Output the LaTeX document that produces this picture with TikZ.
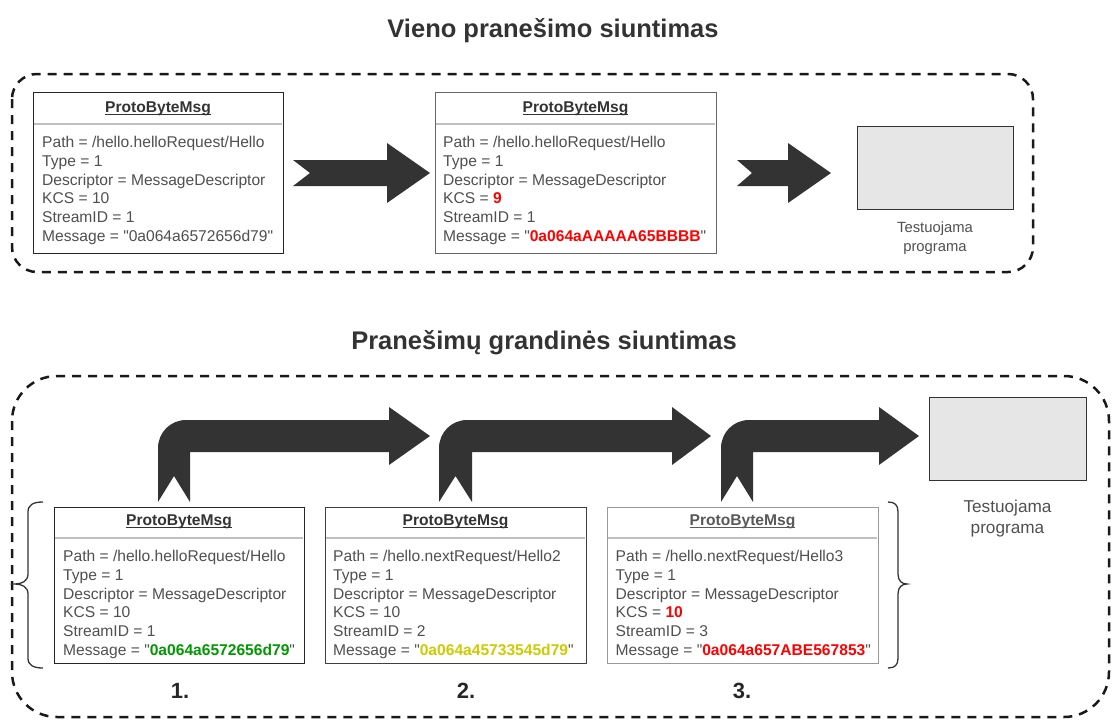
\documentclass[tikz,border=0pt]{standalone}
\usepackage{fontspec}
\setmainfont{Liberation Sans}[Ligatures=TeXOff]
\definecolor{txtgray}{HTML}{505050}
\definecolor{hdgray}{HTML}{333333}
\definecolor{arrowgray}{HTML}{333333}
\definecolor{boxfill}{HTML}{E6E6E6}
\definecolor{msgred}{HTML}{FF0000}
\definecolor{msggreen}{HTML}{009900}
\definecolor{msgyel}{HTML}{CCCC00}
\definecolor{sepgray}{HTML}{C0C0C0}
\newcommand\myul[1]{\setbox0\hbox{#1}\rlap{\rule[-2pt]{\wd0}{1.1pt}}\box0}
\newcommand\hl[2]{{\color{#1}\bfseries #2}}
\newcommand\msglines[9]{%
  \node[ln] (#1l1) at (#2,#3) {#4};
  \node[ln] (#1l2) at (#2,#3+18.8) {#5};
  \node[ln] (#1l3) at (#2,#3+37.6) {#6};
  \node[ln] (#1l4) at (#2,#3+56.4) {#7};
  \node[ln] (#1l5) at (#2,#3+75.2) {#8};
  \node[ln] (#1l6) at (#2,#3+94.0) {#9};
}
\newcommand\bentarr[4]{%
  \fill[blk] (#1,502) -- (#1,448) .. controls (#1,432.5) and (#1+12.5,420) .. (#1+28,420)
    -- (#3,420) -- (#3,407) -- (#4,436) -- (#3,465) -- (#3,452) -- (#2,452) -- (#2,502)
    -- ({(#1+#2)/2},476) -- cycle;}
\tikzset{
  frame/.style={draw=black!90, line width=2.5pt, dash pattern=on 9pt off 7pt},
  msg/.style={draw=#1, line width=1.3pt, fill=white, inner sep=0pt, anchor=north west},
  sepline/.style={draw=sepgray, line width=1.5pt},
  ln/.style={anchor=base west, inner sep=0pt, text=txtgray, font=\fontsize{15.6}{18.8}\selectfont},
  hd/.style={anchor=base, inner sep=0pt, text=hdgray, font=\fontsize{15.6}{18.8}\selectfont\bfseries},
  title/.style={anchor=base, inner sep=0pt, text=hdgray, font=\fontsize{25.5}{30}\selectfont\bfseries},
  num/.style={anchor=base, inner sep=0pt, text=black!85, font=\fontsize{22}{26}\selectfont\bfseries},
  prog/.style={draw=hdgray, line width=1.3pt, fill=boxfill, inner sep=0pt, anchor=north west},
  plabel/.style={anchor=base, inner sep=0pt, text=txtgray},
  blk/.style={fill=arrowgray},
  brc/.style={draw=hdgray, line width=1.3pt},
}
\begin{document}
\begin{tikzpicture}[x=1pt,y=-1pt]
\useasboundingbox (0,0) rectangle (1112,720);

% ---------- top section ----------
\node[title] (t1) at (553,37) {Vieno pranešimo siuntimas};
\draw[frame, rounded corners=25pt] (12,74) rectangle (1033,272);

\node[msg=black!85, minimum width=250pt, minimum height=161pt] (b1) at (33,92) {};
\draw[sepline] (33.7,124) -- (282.3,124);
\node[hd] (b1h) at (158,112.6) {\myul{ProtoByteMsg}};
\msglines{b1}{42}{147.5}{Path = /hello.helloRequest/Hello}{Type = 1}{Descriptor = MessageDescriptor}{KCS = 10}{StreamID = 1}{Message = "0a064a6572656d79"}

\node[msg=black!60, minimum width=281pt, minimum height=161pt] (b2) at (435,92) {};
\draw[sepline] (435.7,124) -- (715.3,124);
\node[hd] (b2h) at (575.5,112.6) {\myul{ProtoByteMsg}};
\msglines{b2}{443}{147.5}{Path = /hello.helloRequest/Hello}{Type = 1}{Descriptor = MessageDescriptor}{KCS = \hl{msgred}{9}}{StreamID = 1}{Message = "\hl{msgred}{0a064aAAAAA65BBBB}"}

\node[prog, minimum width=156pt, minimum height=83pt] (p1) at (857,126) {};
\node[plabel, font=\fontsize{14.8}{18}\selectfont] (p1a) at (935,232) {Testuojama};
\node[plabel, font=\fontsize{14.8}{18}\selectfont] (p1b) at (935,251) {programa};

\fill[blk] (293,160) -- (387,160) -- (387,143) -- (430,173) -- (387,203) -- (387,186) -- (293,186) -- (310,173) -- cycle;
\fill[blk] (737,160) -- (788,160) -- (788,143) -- (831,173) -- (788,203) -- (788,186) -- (737,186) -- (752,173) -- cycle;

% ---------- bottom section ----------
\node[title] (t2) at (544,349) {Pranešimų grandinės siuntimas};
\draw[frame, rounded corners=45pt] (12,376) rectangle (1109,717);

\node[msg=black!85, minimum width=250pt, minimum height=156pt] (c1) at (54,507) {};
\draw[sepline] (54.7,538) -- (303.3,538);
\node[hd] (c1h) at (179,525.6) {\myul{ProtoByteMsg}};
\msglines{c1}{63}{561.5}{Path = /hello.helloRequest/Hello}{Type = 1}{Descriptor = MessageDescriptor}{KCS = 10}{StreamID = 1}{Message = "\hl{msggreen}{0a064a6572656d79}"}

\node[msg=black!75, minimum width=261pt, minimum height=156pt] (c2) at (325,507) {};
\draw[sepline] (325.7,538) -- (585.3,538);
\node[hd] (c2h) at (455.5,525.6) {\myul{ProtoByteMsg}};
\msglines{c2}{333}{561.5}{Path = /hello.nextRequest/Hello2}{Type = 1}{Descriptor = MessageDescriptor}{KCS = 10}{StreamID = 2}{Message = "\hl{msgyel}{0a064a45733545d79}"}

\node[msg=black!40, minimum width=271pt, minimum height=156pt] (c3) at (607,507) {};
\draw[sepline] (607.7,538) -- (877.3,538);
\node[hd, text=black!65] (c3h) at (742.5,525.6) {\myul{ProtoByteMsg}};
\msglines{c3}{615.5}{561.5}{Path = /hello.nextRequest/Hello3}{Type = 1}{Descriptor = MessageDescriptor}{KCS = \hl{msgred}{10}}{StreamID = 3}{Message = "\hl{msgred}{0a064a657ABE567853}"}

\node[num] (n1) at (180,698) {1.};
\node[num] (n2) at (466,698) {2.};
\node[num] (n3) at (742,698) {3.};

\node[prog, minimum width=157pt, minimum height=83pt] (p2) at (929,397) {};
\node[plabel, font=\fontsize{17.2}{21}\selectfont] (p2a) at (1007.5,512) {Testuojama};
\node[plabel, font=\fontsize{17.2}{21}\selectfont] (p2b) at (1007.5,533) {programa};

\bentarr{158}{190}{389}{430}
\bentarr{439}{472}{672}{711}
\bentarr{721}{753}{879}{919}

\draw[brc] (43,502) .. controls (33,502) and (28,505) .. (28,512) -- (28,574)
  .. controls (28,581) and (22,584) .. (15,584) .. controls (22,584) and (28,587) .. (28,594)
  -- (28,658) .. controls (28,665) and (33,668) .. (43,668);
\draw[brc] (888,502) .. controls (895,502) and (898,505) .. (898,512) -- (898,574)
  .. controls (898,581) and (902,584) .. (907,584) .. controls (902,584) and (898,587) .. (898,594)
  -- (898,658) .. controls (898,665) and (895,668) .. (888,668);
\end{tikzpicture}
\end{document}
